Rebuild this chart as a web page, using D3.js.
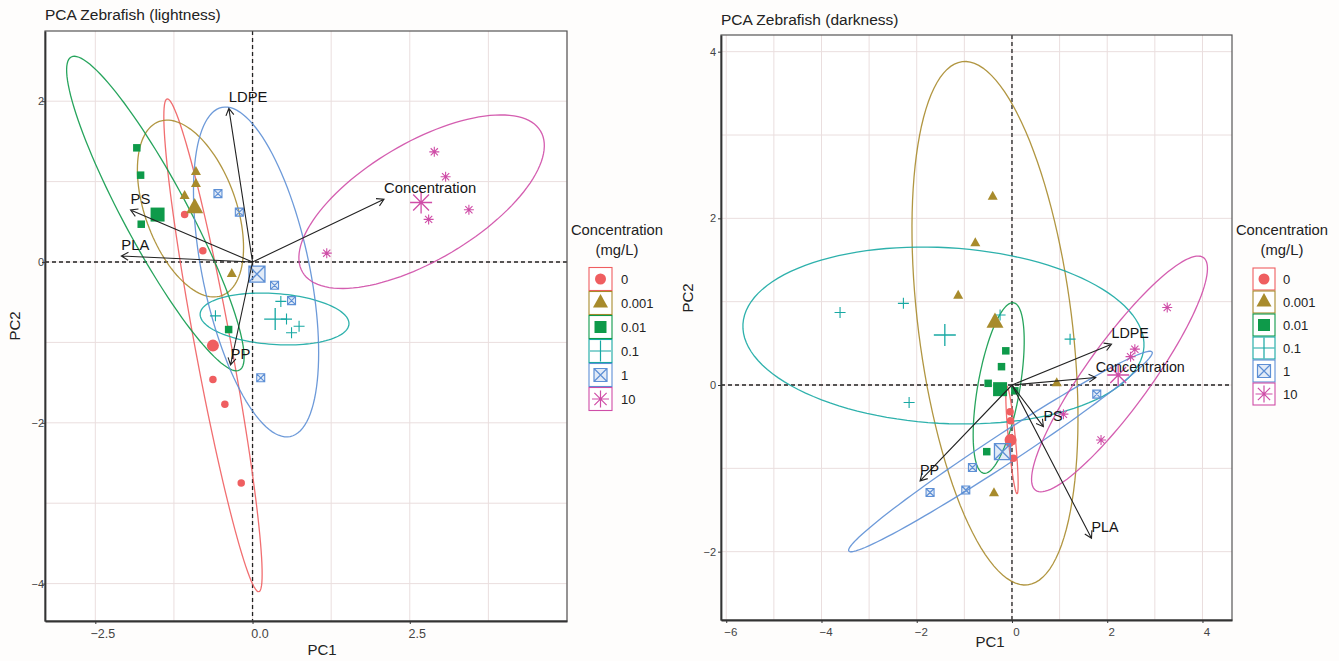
<!DOCTYPE html>
<html>
<head>
<meta charset="utf-8">
<script src="https://cdn.jsdelivr.net/npm/d3@7"></script>
<style>
  body { margin: 0; background: #fff; }
  text { font-family: "Liberation Sans", Arial, sans-serif; }
</style>
</head>
<body>
<svg id="chart" width="1339" height="661"></svg>
<script>
// Treatment concentrations (mg/L) and their colours
const levels = ["0", "0.001", "0.01", "0.1", "1", "10"];
const levelColors = ["#EF5E60", "#A88B2C", "#0E9A4A", "#17A8A3", "#5D8FD5", "#CF4DA7"];

// ---- Lightness PCA ----
// individual scores: [concentration, PC1, PC2]
const lightScores = [
  ["0", -1.08, 0.59], ["0", -0.79, 0.14], ["0", -0.63, -1.46], ["0", -0.44, -1.77], ["0", -0.18, -2.75],
  ["0.001", -0.90, 1.12], ["0.001", -0.90, 0.97], ["0.001", -1.08, 0.82], ["0.001", -0.33, -0.15],
  ["0.01", -1.84, 1.42], ["0.01", -1.78, 1.08], ["0.01", -1.77, 0.47], ["0.01", -0.38, -0.84],
  ["0.1", 0.45, -0.49], ["0.1", -0.59, -0.67], ["0.1", 0.54, -0.71], ["0.1", 0.74, -0.80], ["0.1", 0.62, -0.88],
  ["1", -0.55, 0.85], ["1", -0.21, 0.62], ["1", 0.35, -0.29], ["1", 0.62, -0.48], ["1", 0.13, -1.44],
  ["10", 2.89, 1.37], ["10", 3.07, 1.06], ["10", 2.80, 0.53], ["10", 3.44, 0.65], ["10", 1.18, 0.11]
];
// group means: [concentration, PC1, PC2]
const lightCentroids = [
  ["0", -0.63, -1.04], ["0.001", -0.92, 0.67], ["0.01", -1.51, 0.59],
  ["0.1", 0.36, -0.71], ["1", 0.07, -0.15], ["10", 2.68, 0.74]
];
// confidence ellipses: [concentration, centre PC1, centre PC2, axis1 dPC1, axis1 dPC2, axis2 dPC1, axis2 dPC2]
const lightEllipses = [
  ["0", -0.629, -1.036, 0.729, -3.065, -0.282, -0.041],
  ["0.001", -0.987, 0.665, 0.497, -1.083, -0.682, -0.190],
  ["0.01", -1.545, 0.603, 1.338, -1.947, -0.449, -0.188],
  ["0.1", 0.350, -0.709, 1.183, -0.065, -0.029, -0.316],
  ["1", 0.056, -0.124, 0.543, -2.047, -0.834, -0.135],
  ["10", 2.688, 0.750, 1.892, 0.878, 0.478, -0.628]
];
// variable loadings: [variable, PC1, PC2]
const lightLoadings = [
  ["LDPE", -0.377, 1.91], ["PS", -1.94, 0.647], ["PLA", -2.086, 0.075],
  ["PP", -0.35, -1.28], ["Concentration", 2.09, 0.78]
];
const lightXTicks = [-2.5, 0, 2.5];
const lightYTicks = [-4, -2, 0, 2];

// ---- Darkness PCA ----
const darkScores = [
  ["0", -0.04, -0.32], ["0", -0.03, -0.43], ["0", -0.05, -0.70], ["0", 0.03, -0.88],
  ["0.001", -0.405, 2.26], ["0.001", -0.77, 1.70], ["0.001", -1.13, 1.07], ["0.001", 0.94, 0.02], ["0.001", -0.378, -1.30],
  ["0.01", -0.13, 0.41], ["0.01", -0.22, 0.22], ["0.01", -0.50, 0.02], ["0.01", 0.06, -0.07], ["0.01", -0.53, -0.80],
  ["0.1", -3.61, 0.87], ["0.1", -2.28, 0.98], ["0.1", 1.22, 0.55], ["0.1", -2.16, -0.21], ["0.1", -0.25, 0.84],
  ["1", -0.83, -0.99], ["1", -1.72, -1.29], ["1", -0.97, -1.26], ["1", 1.78, -0.11],
  ["10", 3.26, 0.93], ["10", 2.58, 0.43], ["10", 2.49, 0.34], ["10", 1.08, -0.35], ["10", 1.87, -0.66]
];
const darkCentroids = [
  ["0", -0.03, -0.66], ["0.001", -0.357, 0.748], ["0.01", -0.25, -0.05],
  ["0.1", -1.41, 0.60], ["1", -0.20, -0.80], ["10", 2.23, 0.12]
];
const darkEllipses = [
  ["0", 0.0, -0.66, 0.107, -0.645, -0.073, -0.004],
  ["0.001", -0.357, 0.741, 0.689, -3.139, -1.601, -0.115],
  ["0.01", -0.279, -0.036, 0.313, 1.023, 0.435, -0.043],
  ["0.1", -1.439, 0.594, 4.21, -0.137, -0.105, -1.053],
  ["1", -0.242, -0.798, 3.185, 1.194, 0.160, -0.150],
  ["10", 2.258, 0.133, 1.763, 1.396, 0.550, -0.227]
];
const darkLoadings = [
  ["LDPE", 2.09, 0.49], ["Concentration", 1.76, 0.09], ["PS", 0.66, -0.50],
  ["PLA", 1.67, -1.84], ["PP", -1.93, -1.15]
];
const darkXTicks = [-6, -4, -2, 0, 2, 4];
const darkYTicks = [-2, 0, 2, 4];

const svg = d3.select("#chart");
svg.append("rect").attr("width", 1339).attr("height", 661).attr("fill", "#fefdfc");

const colorOf = d3.scaleOrdinal(levels, levelColors);

// marker outlines per concentration level, s = nominal width in px
function markerPath(level, s) {
  const h = s / 2;
  switch (level) {
    case "0":
      return `M${-h},0a${h},${h} 0 1,0 ${s},0a${h},${h} 0 1,0 ${-s},0Z`;
    case "0.001":
      return `M0,${-0.6 * s}L${h},${0.3 * s}L${-h},${0.3 * s}Z`;
    case "0.01":
      return `M${-h},${-h}h${s}v${s}h${-s}Z`;
    case "0.1":
      return `M${-h},0H${h}M0,${-h}V${h}`;
    case "1":
      return `M${-h},${-h}h${s}v${s}h${-s}ZM${-h},${-h}L${h},${h}M${h},${-h}L${-h},${h}`;
    default: {
      const d = h * 0.72;
      return `M${-h},0H${h}M0,${-h}V${h}M${-d},${-d}L${d},${d}M${d},${-d}L${-d},${d}`;
    }
  }
}
function styleMarker(sel, level, sw) {
  const c = colorOf(level);
  const solid = level === "0" || level === "0.001" || level === "0.01";
  sel.attr("fill", solid ? c : (level === "1" ? c : "none"))
     .attr("fill-opacity", level === "1" ? 0.18 : 1)
     .attr("stroke", solid ? "none" : c)
     .attr("stroke-width", sw);
}
const smallSize = { "0": 7.5, "0.001": 10, "0.01": 7.5, "0.1": 11, "1": 8, "10": 10 };
const bigSize = { "0": 12, "0.001": 17, "0.01": 14, "0.1": 22, "1": 16, "10": 22 };
const legendSize = { "0": 11, "0.001": 15, "0.01": 12, "0.1": 21, "1": 13, "10": 17 };

function drawPanel(cfg) {
  const x = d3.scaleLinear().domain(cfg.xDomain).range([cfg.left, cfg.right]);
  const y = d3.scaleLinear().domain(cfg.yDomain).range([cfg.bottom, cfg.top]);
  const g = svg.append("g");
  const clipId = "clip" + cfg.id;
  g.append("clipPath").attr("id", clipId).append("rect")
    .attr("x", cfg.left).attr("y", cfg.top)
    .attr("width", cfg.right - cfg.left).attr("height", cfg.bottom - cfg.top);

  g.append("rect").attr("x", cfg.left).attr("y", cfg.top)
    .attr("width", cfg.right - cfg.left).attr("height", cfg.bottom - cfg.top)
    .attr("fill", "#ffffff");

  // grid
  const grid = g.append("g").attr("stroke", "#eadede").attr("stroke-width", 1);
  d3.range(cfg.xGridStart, cfg.xDomain[1] + 1e-9, cfg.xGridStep).forEach(v => {
    if (v <= cfg.xDomain[0]) return;
    grid.append("line").attr("x1", x(v)).attr("x2", x(v)).attr("y1", cfg.top).attr("y2", cfg.bottom);
  });
  d3.range(cfg.yGridStart, cfg.yDomain[1] + 1e-9, cfg.yGridStep).forEach(v => {
    if (v <= cfg.yDomain[0]) return;
    grid.append("line").attr("y1", y(v)).attr("y2", y(v)).attr("x1", cfg.left).attr("x2", cfg.right);
  });

  // reference lines through the origin
  const ref = g.append("g").attr("stroke", "#222").attr("stroke-width", 1.3).attr("stroke-dasharray", "4,3");
  ref.append("line").attr("x1", x(0)).attr("x2", x(0)).attr("y1", cfg.top).attr("y2", cfg.bottom);
  ref.append("line").attr("y1", y(0)).attr("y2", y(0)).attr("x1", cfg.left).attr("x2", cfg.right);

  const plot = g.append("g").attr("clip-path", `url(#${clipId})`);

  // confidence ellipses
  const ts = d3.range(0, 121).map(i => i / 120 * 2 * Math.PI);
  const line = d3.line().x(d => x(d[0])).y(d => y(d[1]));
  cfg.ellipses.forEach(e => {
    const [lv, cx, cy, ux, uy, vx, vy] = e;
    const pts = ts.map(t => [cx + ux * Math.cos(t) + vx * Math.sin(t), cy + uy * Math.cos(t) + vy * Math.sin(t)]);
    plot.append("path").attr("d", line(pts)).attr("fill", "none")
      .attr("stroke", colorOf(lv)).attr("stroke-width", 1.3).attr("stroke-opacity", 0.9);
  });

  // individuals
  cfg.scores.forEach(d => {
    plot.append("path").attr("d", markerPath(d[0], smallSize[d[0]]))
      .attr("transform", `translate(${x(d[1])},${y(d[2])})`)
      .call(styleMarker, d[0], 1.1);
  });
  // group means
  cfg.centroids.forEach(d => {
    plot.append("path").attr("d", markerPath(d[0], bigSize[d[0]]))
      .attr("transform", `translate(${x(d[1])},${y(d[2])})`)
      .call(styleMarker, d[0], 1.3);
  });

  // loading arrows
  cfg.loadings.forEach(d => {
    const x0 = x(0), y0 = y(0), x1 = x(d[1]), y1 = y(d[2]);
    const a = Math.atan2(y1 - y0, x1 - x0), L = 8, ang = Math.PI / 6;
    const p1 = [x1 - L * Math.cos(a - ang), y1 - L * Math.sin(a - ang)];
    const p2 = [x1 - L * Math.cos(a + ang), y1 - L * Math.sin(a + ang)];
    plot.append("path")
      .attr("d", `M${x0},${y0}L${x1},${y1}M${p1[0]},${p1[1]}L${x1},${y1}L${p2[0]},${p2[1]}`)
      .attr("fill", "none").attr("stroke", "#222").attr("stroke-width", 1.1);
    plot.append("text").attr("x", x1).attr("y", y1 - 6)
      .attr("font-size", cfg.varFont).attr("fill", "#151515").text(d[0]);
  });

  // panel border and axes
  g.append("rect").attr("x", cfg.left).attr("y", cfg.top)
    .attr("width", cfg.right - cfg.left).attr("height", cfg.bottom - cfg.top)
    .attr("fill", "none").attr("stroke", "#555").attr("stroke-width", 1.2);

  const ax = g.append("g").attr("transform", `translate(0,${cfg.bottom})`)
    .call(d3.axisBottom(x).tickValues(cfg.xTicks).tickSize(3).tickSizeOuter(0).tickFormat(cfg.xFormat));
  ax.select(".domain").attr("stroke", "#333").attr("stroke-width", 1.8);
  ax.selectAll(".tick line").attr("stroke", "#333");
  ax.selectAll(".tick text").attr("font-size", cfg.tickFont).attr("fill", "#444")
    .attr("font-family", "Liberation Sans, Arial, sans-serif").attr("dx", cfg.xLabelShift).attr("dy", "0.9em");

  const ay = g.append("g").attr("transform", `translate(${cfg.left},0)`)
    .call(d3.axisLeft(y).tickValues(cfg.yTicks).tickSize(3).tickSizeOuter(0).tickFormat(d3.format("d")));
  ay.select(".domain").attr("stroke", "#333").attr("stroke-width", 1.8);
  ay.selectAll(".tick line").attr("stroke", "#333");
  ay.selectAll(".tick text").attr("font-size", 11).attr("fill", "#444")
    .attr("font-family", "Liberation Sans, Arial, sans-serif")
    .attr("x", cfg.yLabelX);

  // titles
  svg.append("text").attr("x", cfg.left).attr("y", cfg.titleY)
    .attr("font-size", 15.5).attr("fill", "#222").text(cfg.title);
  svg.append("text").attr("x", cfg.pc1X).attr("y", cfg.pc1Y).attr("text-anchor", "middle")
    .attr("font-size", 15).attr("fill", "#222").text("PC1");
  svg.append("text").attr("transform", `translate(${cfg.pc2X},${cfg.pc2Y}) rotate(-90)`)
    .attr("text-anchor", "middle").attr("font-size", 15).attr("fill", "#222").text("PC2");

  // legend
  const lg = svg.append("g");
  lg.append("text").attr("x", cfg.legTitleX).attr("y", 235).attr("text-anchor", "middle")
    .attr("font-size", 14.8).attr("fill", "#222").text("Concentration");
  lg.append("text").attr("x", cfg.legTitleX).attr("y", 255).attr("text-anchor", "middle")
    .attr("font-size", 14.8).attr("fill", "#222").text("(mg/L)");
  levels.forEach((lv, i) => {
    const cy = 279 + i * cfg.legStep, cx = cfg.legKeyX, b = cfg.legStep - 1;
    lg.append("rect").attr("x", cx - b / 2).attr("y", cy - b / 2).attr("width", b).attr("height", b)
      .attr("fill", "#fff").attr("stroke", colorOf(lv)).attr("stroke-width", 1.1);
    lg.append("path").attr("d", markerPath(lv, legendSize[lv]))
      .attr("transform", `translate(${cx},${cy})`).call(styleMarker, lv, 1.2);
    lg.append("text").attr("x", cfg.legLabelX).attr("y", cy + 4.5)
      .attr("font-size", 13).attr("fill", "#222").text(lv);
  });
}

drawPanel({
  id: "light", title: "PCA Zebrafish (lightness)", titleY: 20,
  left: 45, right: 567, top: 31, bottom: 621,
  xDomain: [-3.30, 5.0], yDomain: [-4.465, 2.873],
  xGridStart: -3.75, xGridStep: 1.25, yGridStart: -5, yGridStep: 1,
  xTicks: lightXTicks, yTicks: lightYTicks, xFormat: d3.format(".1f"),
  xLabelShift: 7, tickFont: 12.5, yLabelX: -1, varFont: 14.8,
  scores: lightScores, centroids: lightCentroids, ellipses: lightEllipses, loadings: lightLoadings,
  pc1X: 322, pc1Y: 655, pc2X: 20, pc2Y: 326,
  legTitleX: 617, legKeyX: 600.5, legLabelX: 621, legStep: 24
});

drawPanel({
  id: "dark", title: "PCA Zebrafish (darkness)", titleY: 25,
  left: 721, right: 1232, top: 35, bottom: 620,
  xDomain: [-6.11, 4.62], yDomain: [-2.82, 4.20],
  xGridStart: -7, xGridStep: 1, yGridStart: -3, yGridStep: 1,
  xTicks: darkXTicks, yTicks: darkYTicks, xFormat: d3.format("d"),
  xLabelShift: 4, tickFont: 11.5, yLabelX: -5, varFont: 14.3,
  scores: darkScores, centroids: darkCentroids, ellipses: darkEllipses, loadings: darkLoadings,
  pc1X: 990, pc1Y: 647, pc2X: 693, pc2Y: 298,
  legTitleX: 1282, legKeyX: 1264, legLabelX: 1283, legStep: 23
});
</script>
</body>
</html>
